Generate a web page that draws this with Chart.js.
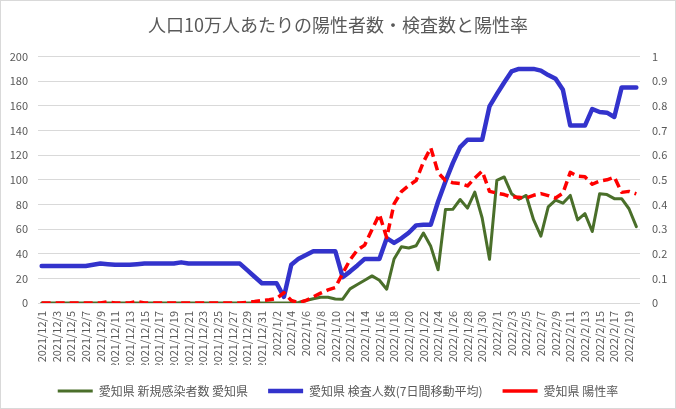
<!DOCTYPE html>
<html>
<head>
<meta charset="utf-8">
<script src="https://cdn.jsdelivr.net/npm/chart.js@4"></script>
<style>
  body { margin: 0; background: #fff; }
  #wrap { width: 676px; height: 409px; }
</style>
</head>
<body>
<div id="wrap"><canvas id="myChart" width="676" height="409"></canvas></div>
<script>
'use strict';

// Data

let dates = [
  '2021/12/1', '2021/12/2', '2021/12/3', '2021/12/4', '2021/12/5', '2021/12/6', '2021/12/7', '2021/12/8',
  '2021/12/9', '2021/12/10', '2021/12/11', '2021/12/12', '2021/12/13', '2021/12/14', '2021/12/15', '2021/12/16',
  '2021/12/17', '2021/12/18', '2021/12/19', '2021/12/20', '2021/12/21', '2021/12/22', '2021/12/23', '2021/12/24',
  '2021/12/25', '2021/12/26', '2021/12/27', '2021/12/28', '2021/12/29', '2021/12/30', '2021/12/31',
  '2022/1/1', '2022/1/2', '2022/1/3', '2022/1/4', '2022/1/5', '2022/1/6', '2022/1/7', '2022/1/8',
  '2022/1/9', '2022/1/10', '2022/1/11', '2022/1/12', '2022/1/13', '2022/1/14', '2022/1/15', '2022/1/16',
  '2022/1/17', '2022/1/18', '2022/1/19', '2022/1/20', '2022/1/21', '2022/1/22', '2022/1/23', '2022/1/24',
  '2022/1/25', '2022/1/26', '2022/1/27', '2022/1/28', '2022/1/29', '2022/1/30', '2022/1/31',
  '2022/2/1', '2022/2/2', '2022/2/3', '2022/2/4', '2022/2/5', '2022/2/6', '2022/2/7', '2022/2/8',
  '2022/2/9', '2022/2/10', '2022/2/11', '2022/2/12', '2022/2/13', '2022/2/14', '2022/2/15', '2022/2/16',
  '2022/2/17', '2022/2/18', '2022/2/19', '2022/2/20'
];

let newCases = [
  0, 0, 0, 0, 0, 0, 0, 0, 0, 0, 0, 0, 0, 0, 0, 0, 0, 0, 0, 0,
  0, 0, 0, 0, 0, 0, 0, 0, 0, 0, 0, 0, 0, 0, 0, 0.5, 2, 3.5, 4.6, 4.6,
  3.2, 3.1, 11.5, 15, 18.5, 22, 18.5, 11.2, 35.7, 45.6, 44.6, 46.5, 56.8, 46, 27, 75.8,
  76, 84, 77, 90, 69, 35.5, 99.5, 102.3, 88.7, 84.2, 87.3, 67.6, 54.3, 78,
  83.5, 81, 87.3, 67.5, 72.5, 58, 88.6, 88, 84.7, 84.7, 76.5, 62
];

let testCount = [
  30, 30, 30, 30, 30, 30, 30, 31, 32, 31.5, 31, 31, 31, 31.5, 32, 32, 32, 32, 32, 33,
  32, 32, 32, 32, 32, 32, 32, 32, 26.7, 21.3, 16, 16, 16, 5, 31, 36, 39, 42, 42, 42,
  42, 21, 25.5, 30.5, 35.8, 35.8, 35.8, 52.6, 48.8, 52.5, 57, 63, 63.6, 63.6, 82.4, 98.6,
  113.5, 126.5, 132.5, 132.5, 132.5, 159.6, 169.5, 179, 188, 190, 190, 190, 188.6, 185,
  182, 173, 144, 144, 144, 157.5, 155, 154.5, 151, 175, 175, 175
];

let positiveRate = [
  0, 0, 0, 0, 0, 0, 0, 0, 0, 0.005, 0, 0, 0, 0.006, 0, 0, 0, 0, 0, 0,
  0, 0, 0, 0, 0, 0, 0, 0, 0.003, 0.006, 0.01, 0.013, 0.018, 0.042, 0.01, 0.002, 0.01, 0.025, 0.04, 0.053,
  0.063, 0.12, 0.175, 0.215, 0.235, 0.298, 0.36, 0.265, 0.402, 0.452, 0.477, 0.497, 0.572, 0.63, 0.529, 0.497,
  0.488, 0.485, 0.475, 0.507, 0.535, 0.453, 0.446, 0.44, 0.43, 0.429, 0.426, 0.437, 0.444, 0.436,
  0.426, 0.446, 0.53, 0.515, 0.512, 0.482, 0.495, 0.5, 0.511, 0.449, 0.453, 0.443
];

let seriesNames = ['愛知県 新規感染者数 愛知県', '愛知県 検査人数(7日間移動平均)', '愛知県 陽性率'];
let chartTitle = '人口10万人あたりの陽性者数・検査数と陽性率';

// Styles

const font = '"Noto Sans CJK JP", "Noto Sans", sans-serif';
const textColor = '#595959';

const frame = {
  id: 'frame',
  beforeDraw(chart) {
    const ctx = chart.ctx;
    ctx.save();
    ctx.fillStyle = '#fff';
    ctx.fillRect(0, 0, chart.width, chart.height);
    ctx.strokeStyle = '#d9d9d9';
    ctx.lineWidth = 1;
    ctx.strokeRect(0.5, 0.5, chart.width - 1, chart.height - 1);
    ctx.restore();
  }
};

// Render chart

const ctx = document.getElementById('myChart').getContext('2d');
const myChart = new Chart(ctx, {
  type: 'line',
  data: {
    labels: dates,
    datasets: [{
      label: seriesNames[0],
      data: newCases,
      borderColor: '#4a6f2a',
      backgroundColor: '#4a6f2a',
      borderWidth: 3,
      yAxisID: 'y',
      order: 2
    },
    {
      label: seriesNames[1],
      data: testCount,
      borderColor: '#3333cc',
      backgroundColor: '#3333cc',
      borderWidth: 4.5,
      yAxisID: 'y',
      order: 1
    },
    {
      label: seriesNames[2],
      data: positiveRate,
      borderColor: '#ff0000',
      backgroundColor: '#ff0000',
      borderWidth: 3.5,
      borderDash: [9, 5],
      borderCapStyle: 'butt',
      yAxisID: 'y1',
      order: 0
    }]
  },
  options: {
    responsive: false,
    animation: false,
    layout: { padding: { left: 0, right: 0, top: 0, bottom: 2 } },
    elements: {
      point: { radius: 0 },
      line: { tension: 0, borderJoinStyle: 'round', borderCapStyle: 'round' }
    },
    plugins: {
      title: {
        display: true,
        text: chartTitle,
        color: textColor,
        font: { family: font, size: 18, weight: 'normal' },
        padding: { top: 14, bottom: 21 }
      },
      legend: {
        position: 'bottom',
        labels: {
          color: textColor,
          font: { family: font, size: 12 },
          usePointStyle: true,
          pointStyle: 'line',
          pointStyleWidth: 35,
          padding: 20,
          sort: (a, b) => a.datasetIndex - b.datasetIndex
        }
      },
      tooltip: { enabled: false }
    },
    scales: {
      x: {
        offset: true,
        grid: { display: false, drawTicks: false },
        border: { display: false },
        afterFit: (scale) => { scale.height = 62; },
        ticks: {
          color: textColor,
          font: { family: font, size: 11 },
          autoSkip: false,
          minRotation: 90,
          maxRotation: 90,
          padding: 8,
          callback: function (value, index) {
            return index % 2 === 0 ? this.getLabelForValue(value) : '';
          }
        }
      },
      y: {
        position: 'left',
        min: 0,
        max: 200,
        afterFit: (scale) => { scale.width = 38; },
        grid: { color: '#d9d9d9', drawTicks: false },
        border: { display: false },
        ticks: {
          stepSize: 20,
          color: textColor,
          font: { family: font, size: 11 },
          padding: 10
        }
      },
      y1: {
        position: 'right',
        min: 0,
        max: 1,
        afterFit: (scale) => { scale.width = 36; },
        grid: { display: false, drawTicks: false },
        border: { display: false },
        ticks: {
          stepSize: 0.1,
          color: textColor,
          font: { family: font, size: 11 },
          padding: 12,
          callback: (value) => Math.round(value * 10) / 10
        }
      }
    }
  },
  plugins: [frame]
});
</script>
</body>
</html>
